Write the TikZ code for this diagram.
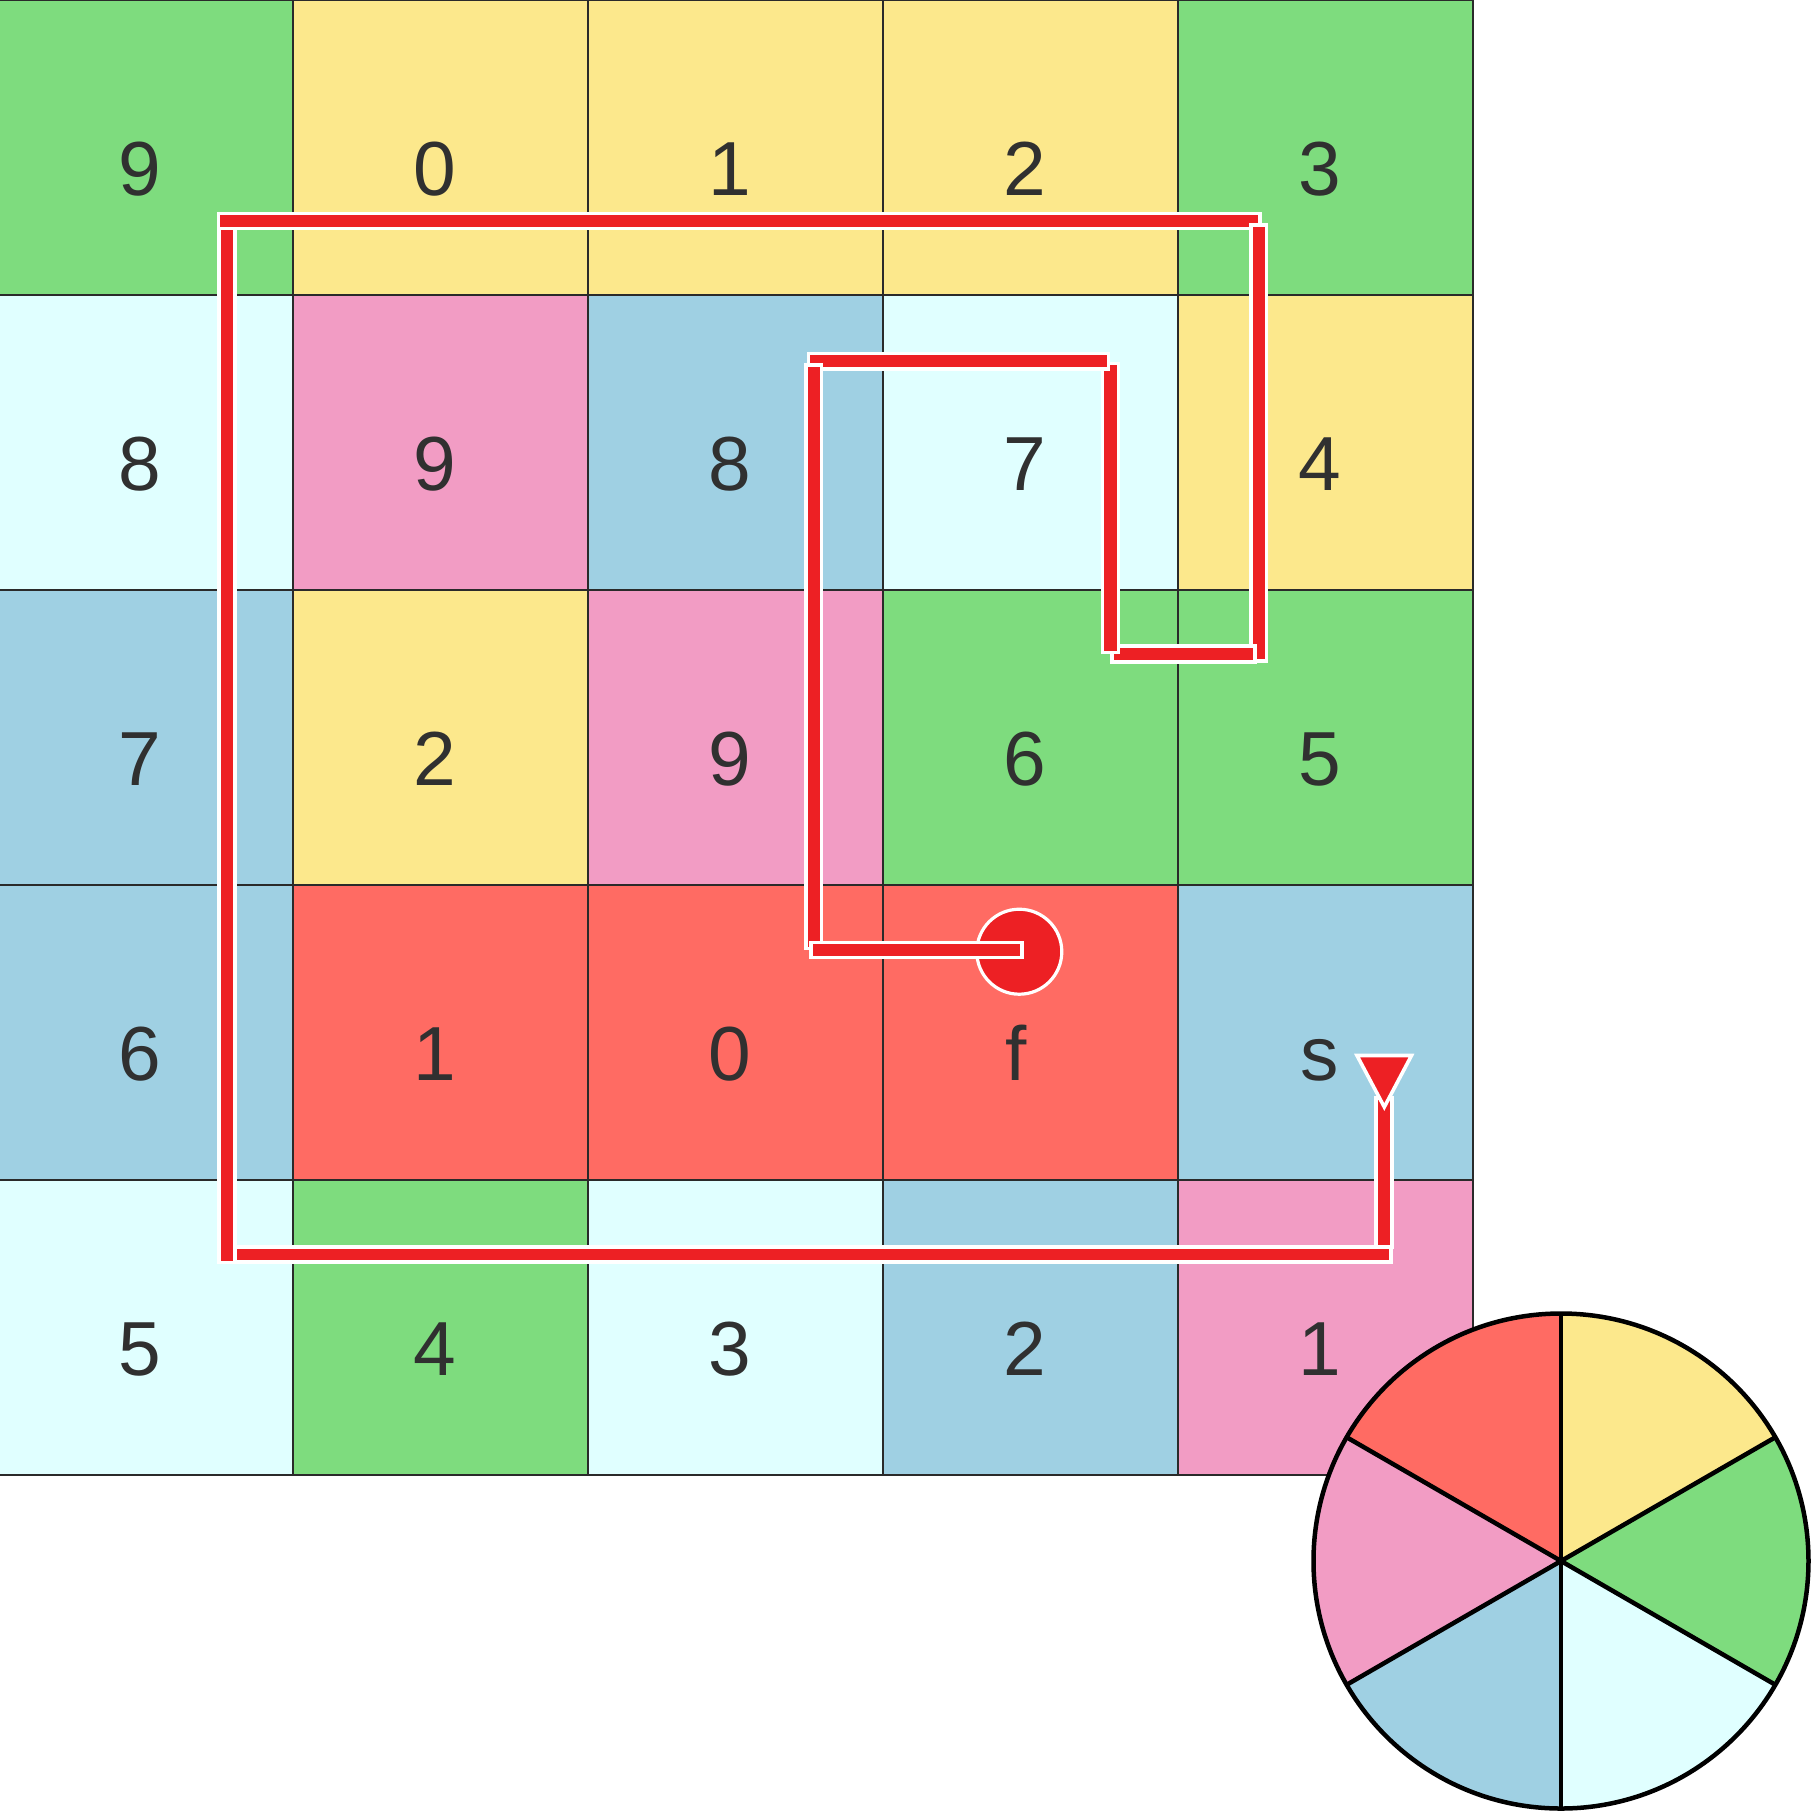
\documentclass[tikz,border=0pt]{standalone}
\usepackage{fontspec}
\setmainfont{Liberation Sans}
\definecolor{cg}{HTML}{7EDC7E}
\definecolor{cy}{HTML}{FCE88C}
\definecolor{cc}{HTML}{E0FFFF}
\definecolor{cp}{HTML}{F29CC4}
\definecolor{cb}{HTML}{9FD0E3}
\definecolor{cr}{HTML}{FF6B63}
\definecolor{pathred}{HTML}{ED2024}
\definecolor{txt}{HTML}{303030}
\definecolor{gridline}{HTML}{2A2A2A}
\begin{document}
\begin{tikzpicture}[x=0.01cm,y=-0.01cm,
  gridstroke/.style={draw=gridline, line width=0.022cm},
  lbl/.style={anchor=base, text=txt, inner sep=0pt, font=\fontsize{21.8pt}{26pt}\selectfont},
  bar/.style={fill=pathred, draw=white, line width=0.036cm},
  sector/.style={draw=black, line width=0.045cm}]
\useasboundingbox (0,0) rectangle (1814,1814);
\fill[white] (0,0) rectangle (1814,1814);
% cells
\foreach \c/\r/\col in {0/0/cg,1/0/cy,2/0/cy,3/0/cy,4/0/cg,
                        0/1/cc,1/1/cp,2/1/cb,3/1/cc,4/1/cy,
                        0/2/cb,1/2/cy,2/2/cp,3/2/cg,4/2/cg,
                        0/3/cb,1/3/cr,2/3/cr,3/3/cr,4/3/cb,
                        0/4/cc,1/4/cg,2/4/cc,3/4/cb,4/4/cp}{
  \fill[\col] ({295*\c-1.7},{295*\r}) rectangle ++(295,295);
}
\foreach \k in {0,...,5}{
  \draw[gridstroke] ({295*\k-1.7},0) -- ({295*\k-1.7},1475);
  \draw[gridstroke] (-1.7,{295*\k}) -- (1473.3,{295*\k});
}
% labels
\foreach \c/\r/\t in {0/0/9,1/0/0,2/0/1,3/0/2,4/0/3,
                      0/1/8,1/1/9,2/1/8,3/1/7,4/1/4,
                      0/2/7,1/2/2,2/2/9,3/2/6,4/2/5,
                      0/3/6,1/3/1,2/3/0,4/3/s,
                      0/4/5,1/4/4,2/4/3,3/4/2,4/4/1}{
  \node[lbl] (t\c\r) at ({295*\c-1.7+141.5},{295*\r+195}) {\t};
}
\node[lbl] (t33) at (1016.5,1080) {f};
% path
\filldraw[fill=pathred, draw=white, line width=0.032cm] (1019.3,951.7) circle[radius=42.5];
\filldraw[bar] (1376,1098) rectangle (1392,1247.5);
\filldraw[bar] (234.5,1247) rectangle (1391,1262.2);
\filldraw[bar] (219.2,228.5) rectangle (234.8,1262.5);
\filldraw[bar] (218.5,213.5) rectangle (1260,228.5);
\filldraw[bar] (1250.8,225) rectangle (1266.5,661);
\filldraw[bar] (1112,645.8) rectangle (1255,661.8);
\filldraw[bar] (1102.5,363.5) rectangle (1118.5,652.5);
\filldraw[bar] (808.5,353.5) rectangle (1108.5,369.2);
\filldraw[bar] (805.8,365) rectangle (821.5,948.5);
\filldraw[bar] (811,942.5) rectangle (1021.8,957.5);
\filldraw[fill=pathred, draw=white, line width=0.036cm, line join=miter]
  (1357,1055.5) -- (1411.5,1055.5) -- (1384.3,1107) -- cycle;
% legend wheel
\begin{scope}[shift={(1561,1561)}]
  \fill[cy] (0,0) -- (-90:247.5) arc[start angle=-90, end angle=-30, radius=247.5] -- cycle;
  \fill[cg] (0,0) -- (-30:247.5) arc[start angle=-30, end angle=30, radius=247.5] -- cycle;
  \fill[cc] (0,0) -- (30:247.5) arc[start angle=30, end angle=90, radius=247.5] -- cycle;
  \fill[cb] (0,0) -- (90:247.5) arc[start angle=90, end angle=150, radius=247.5] -- cycle;
  \fill[cp] (0,0) -- (150:247.5) arc[start angle=150, end angle=210, radius=247.5] -- cycle;
  \fill[cr] (0,0) -- (210:247.5) arc[start angle=210, end angle=270, radius=247.5] -- cycle;
  \draw[sector] (-90:247.5) -- (90:247.5);
  \draw[sector] (-30:247.5) -- (150:247.5);
  \draw[sector] (30:247.5) -- (210:247.5);
  \draw[sector] (0,0) circle[radius=247.5];
\end{scope}
\end{tikzpicture}
\end{document}
